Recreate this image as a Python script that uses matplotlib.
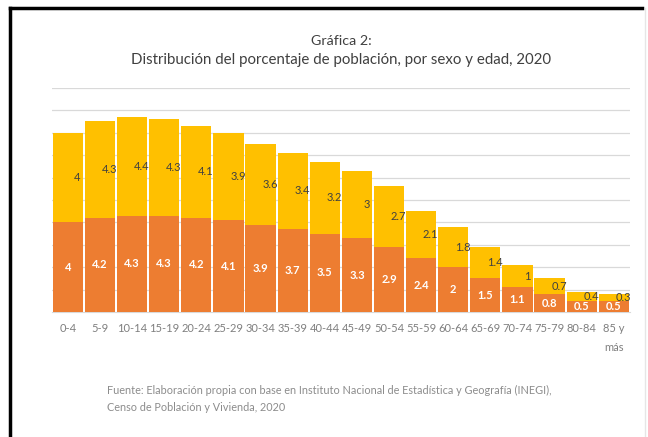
import numpy as np
import matplotlib.pyplot as plt

plt.rcParams['font.family'] = ['Lato', 'DejaVu Sans']

grupos = ["0-4", "5-9", "10-14", "15-19", "20-24", "25-29", "30-34", "35-39", "40-44",
          "45-49", "50-54", "55-59", "60-64", "65-69", "70-74", "75-79", "80-84", "85 y\nmás"]
naranja_vals = [4, 4.2, 4.3, 4.3, 4.2, 4.1, 3.9, 3.7, 3.5, 3.3, 2.9, 2.4, 2, 1.5, 1.1, 0.8, 0.5, 0.5]
amarillo_vals = [4, 4.3, 4.4, 4.3, 4.1, 3.9, 3.6, 3.4, 3.2, 3, 2.7, 2.1, 1.8, 1.4, 1, 0.7, 0.4, 0.3]

fig = plt.figure(figsize=(6.48, 4.37), dpi=100)
fig.patch.set_facecolor("white")

# marco
fig.add_artist(plt.Line2D([0.015, 0.015], [0.0, 0.982], color="black", lw=2.5, transform=fig.transFigure))
fig.add_artist(plt.Line2D([0.015, 0.99], [0.982, 0.982], color="black", lw=2.5, transform=fig.transFigure))
fig.add_artist(plt.Line2D([0.995, 0.995], [0.0, 0.982], color="#e6e6e6", lw=1, transform=fig.transFigure))

ax = fig.add_axes([0.080, 0.286, 0.892, 0.513])
x = np.arange(len(grupos))
w = 0.94
ax.bar(x, naranja_vals, width=w, color="#ED7D31", zorder=3)
ax.bar(x, amarillo_vals, width=w, bottom=naranja_vals, color="#FFC000", zorder=3)

for i in range(len(grupos)):
    ax.text(x[i], naranja_vals[i] / 2, f"{naranja_vals[i]:g}", ha="center", va="center",
            color="white", fontsize=8, fontweight="bold", zorder=4)
    ax.text(x[i] + 0.3, naranja_vals[i] + amarillo_vals[i] / 2, f"{amarillo_vals[i]:g}",
            ha="center", va="center", color="#404040", fontsize=8, zorder=4)

ax.set_xlim(-0.5, len(grupos) - 0.5)
ax.set_ylim(0, 10)
ax.set_yticks(np.arange(1, 11))
ax.yaxis.grid(True, color="#d9d9d9", lw=0.9, zorder=0)
ax.tick_params(axis="y", left=False, labelleft=False)
ax.set_xticks(x)
ax.set_xticklabels(grupos, fontsize=8, color="#7f7f7f", linespacing=1.9)
ax.tick_params(axis="x", length=0, pad=8)
for s in ["top", "right", "left"]:
    ax.spines[s].set_visible(False)
ax.spines["bottom"].set_color("#d9d9d9")

fig.text(0.527, 0.907, "Gráfica 2:", ha="center", va="center", fontsize=10.3, color="#404040")
fig.text(0.527, 0.862, "Distribución del porcentaje de población, por sexo y edad, 2020",
         ha="center", va="center", fontsize=10.8, color="#404040")

fig.text(0.165, 0.107, "Fuente: Elaboración propia con base en Instituto Nacional de Estadística y Geografía (INEGI),",
         ha="left", va="center", fontsize=7.8, color="#8c8c8c")
fig.text(0.165, 0.067, "Censo de Población y Vivienda, 2020",
         ha="left", va="center", fontsize=7.8, color="#8c8c8c")

fig.savefig("out.png", dpi=100, facecolor="white")
